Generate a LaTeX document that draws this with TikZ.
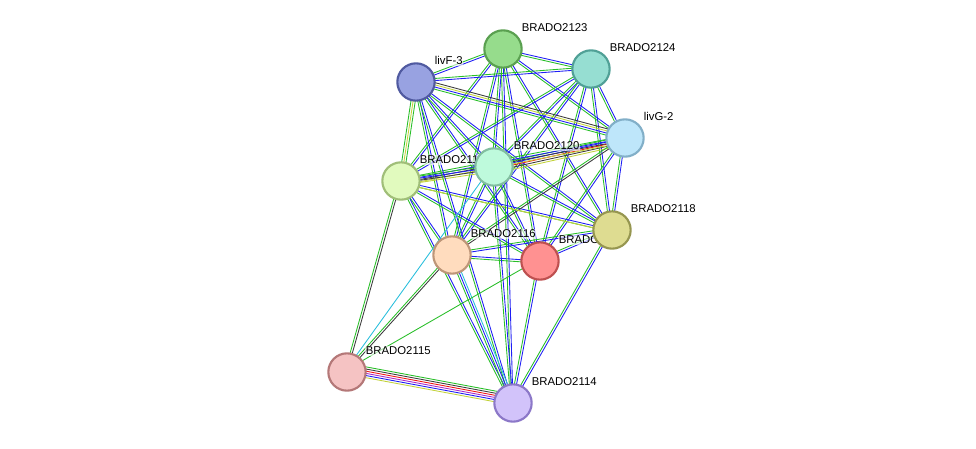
\documentclass[tikz,border=0pt]{standalone}
\usepackage{fontspec}
\setmainfont{Liberation Sans}
\usetikzlibrary{calc,positioning}
\definecolor{eg}{RGB}{40,190,40}
\definecolor{eb}{RGB}{30,30,245}
\definecolor{ey}{RGB}{195,210,60}
\definecolor{ek}{RGB}{60,60,60}
\definecolor{er}{RGB}{240,20,20}
\definecolor{ec}{RGB}{40,190,220}
\definecolor{ep}{RGB}{170,40,200}
\newcommand\bundle[3]{%
  \foreach \c [count=\i] in {#3} {%
    \draw[Edge, \c] ($(#1)!{(\i-2)*1.6pt}!90:(#2)$) -- ($(#2)!{(\i-2)*1.6pt}!-90:(#1)$);}}
\begin{document}
\begin{tikzpicture}[x=0.75pt, y=-0.75pt]
		\tikzstyle{Prot} 	= [circle, draw, line width=1.6pt, minimum size=28pt, inner sep=0pt]
		\tikzstyle{Edge}	= [line width=0.65pt]
		\tikzstyle{Lbl}		= [font=\fontsize{8.5}{10}\selectfont, anchor=base west, fill=white, fill opacity=0.6, text opacity=1, inner sep=0.5pt]
		\useasboundingbox (0,0) rectangle (976,449);

		\coordinate (v2123) at (503, 49);
		\coordinate (v2124) at (591, 69);
		\coordinate (vlivF) at (416, 82);
		\coordinate (vlivG) at (625, 138);
		\coordinate (v2120) at (494, 167);
		\coordinate (v2119) at (401, 181);
		\coordinate (v2118) at (612, 230);
		\coordinate (v2116) at (452, 255);
		\coordinate (v2117) at (540, 261);
		\coordinate (v2115) at (347, 372);
		\coordinate (v2114) at (513, 403);

		% links among the upper cluster
		\foreach \a/\b in {v2123/v2124, v2123/vlivF, v2123/vlivG, v2123/v2120, v2123/v2119, v2123/v2118, v2123/v2116, v2123/v2117,
			v2124/vlivF, v2124/vlivG, v2124/v2120, v2124/v2119, v2124/v2118, v2124/v2116, v2124/v2117,
			vlivF/v2120, vlivF/v2118, vlivF/v2116, vlivF/v2117,
			vlivG/v2118, vlivG/v2117,
			v2120/v2118, v2120/v2116, v2120/v2117,
			v2119/v2118, v2119/v2116, v2119/v2117,
			v2118/v2116, v2118/v2117, v2116/v2117}
			{\bundle{\a}{\b}{eg,eb}}
		\bundle{vlivF}{vlivG}{eg,eb,ey,ek}
		\bundle{vlivF}{v2119}{eg,ey,eg}
		\bundle{vlivG}{v2120}{eg,eb,er,ek,ey}
		\bundle{vlivG}{v2119}{eg,eb,ek,ey}
		\bundle{v2120}{v2119}{eg,eb,ek,ey}
		\bundle{vlivG}{v2116}{eg,ek}
		\bundle{v2119}{v2118}{ey}
		% links to the lower pair
		\foreach \a in {v2123, vlivF, v2120, v2119, v2118, v2117}
			{\bundle{\a}{v2114}{eg,eb}}
		\bundle{v2116}{v2114}{eg,eb,ec}
		\bundle{v2119}{v2115}{eg,ek}
		\bundle{v2116}{v2115}{eg,ek}
		\bundle{v2120}{v2115}{ec}
		\bundle{v2117}{v2115}{eg}
		\bundle{v2115}{v2114}{ey,eb,ep,er,ek,eg}

		\node (l2123) at ($(v2123)+(18,-17)$) [Lbl] {BRADO2123};
		\node (l2124) at ($(v2124)+(18,-17)$) [Lbl] {BRADO2124};
		\node (llivF) at ($(vlivF)+(18,-17)$) [Lbl] {livF-3};
		\node (llivG) at ($(vlivG)+(18,-17)$) [Lbl] {livG-2};
		\node (l2120) at ($(v2120)+(19,-17)$) [Lbl] {BRADO2120};
		\node (l2119) at ($(v2119)+(18,-17)$) [Lbl] {BRADO2119};
		\node (l2118) at ($(v2118)+(18,-17)$) [Lbl] {BRADO2118};
		\node (l2116) at ($(v2116)+(18,-17)$) [Lbl] {BRADO2116};
		\node (l2117) at ($(v2117)+(18,-17)$) [Lbl] {BRADO2117};
		\node (l2115) at ($(v2115)+(18,-17)$) [Lbl] {BRADO2115};
		\node (l2114) at ($(v2114)+(18,-17)$) [Lbl] {BRADO2114};

		\node (n2123) at (v2123) [Prot, fill={rgb,255:red,150;green,220;blue,140}, draw={rgb,255:red,90;green,160;blue,80}] {};
		\node (n2124) at (v2124) [Prot, fill={rgb,255:red,150;green,222;blue,210}, draw={rgb,255:red,80;green,160;blue,150}] {};
		\node (nlivF) at (vlivF) [Prot, fill={rgb,255:red,152;green,162;blue,225}, draw={rgb,255:red,80;green,90;blue,160}] {};
		\node (nlivG) at (vlivG) [Prot, fill={rgb,255:red,190;green,230;blue,250}, draw={rgb,255:red,130;green,175;blue,200}] {};
		\node (n2120) at (v2120) [Prot, fill={rgb,255:red,190;green,250;blue,220}, draw={rgb,255:red,130;green,190;blue,160}] {};
		\node (n2119) at (v2119) [Prot, fill={rgb,255:red,225;green,250;blue,190}, draw={rgb,255:red,160;green,190;blue,120}] {};
		\node (n2118) at (v2118) [Prot, fill={rgb,255:red,222;green,220;blue,145}, draw={rgb,255:red,150;green,150;blue,80}] {};
		\node (n2116) at (v2116) [Prot, fill={rgb,255:red,255;green,220;blue,190}, draw={rgb,255:red,190;green,150;blue,120}] {};
		\node (n2117) at (v2117) [Prot, fill={rgb,255:red,255;green,145;blue,145}, draw={rgb,255:red,190;green,80;blue,80}] {};
		\node (n2115) at (v2115) [Prot, fill={rgb,255:red,245;green,195;blue,195}, draw={rgb,255:red,180;green,120;blue,120}] {};
		\node (n2114) at (v2114) [Prot, fill={rgb,255:red,210;green,195;blue,250}, draw={rgb,255:red,140;green,120;blue,200}] {};
	\end{tikzpicture}
\end{document}
